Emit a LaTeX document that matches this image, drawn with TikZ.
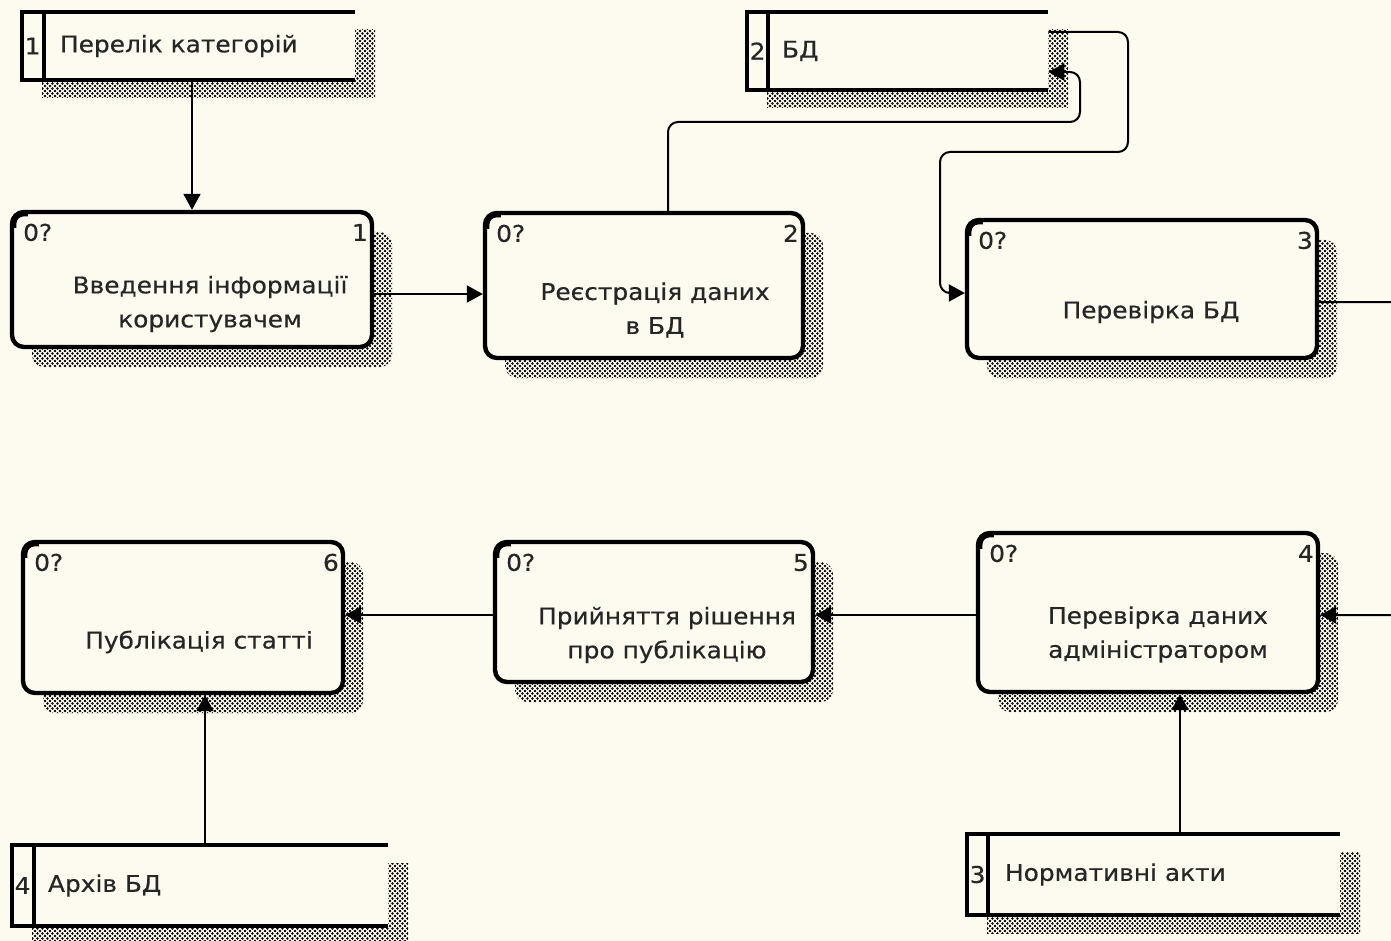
\documentclass[tikz,border=0pt]{standalone}
\usepackage{fontspec}
\setmainfont{DejaVu Sans}[FakeStretch=1.08,FakeBold=0.4]
\usetikzlibrary{arrows.meta,shadows,patterns}
\definecolor{bgc}{HTML}{FDFAF0}
\pgfdeclarepatternformonly{fdots}{\pgfqpoint{-0.75pt}{-0.75pt}}{\pgfqpoint{1.75pt}{1.75pt}}{\pgfqpoint{2.5pt}{2.5pt}}{%
  \pgfpathcircle{\pgfqpoint{0pt}{0pt}}{0.68pt}%
  \pgfpathcircle{\pgfqpoint{1.25pt}{1.25pt}}{0.68pt}%
  \pgfusepath{fill}}
\newcommand\dfdtxt{\fontsize{11.5}{17}\selectfont}
\newcommand\dfdproc[8]{%
  \node[proc, minimum width=#4, minimum height=#5] (#1) at (#2,#3) {};
  \draw[corner] ([shift={(1.8pt,-9pt)}]#1.north west) |- ([shift={(9pt,-1.8pt)}]#1.north west);
  \node[lbl, anchor=base west] (#1z) at ([shift={(6.5pt,-15.5pt)}]#1.north west) {0?};
  \node[lbl, anchor=base east] (#1n) at ([shift={(-3pt,-15.5pt)}]#1.north east) {#6};
  \node[ptext] (#1t) at ([shift={#7}]#1.center) {#8};
}
\newcommand\dfdstore[9]{%
  \node[store, minimum width=#4, minimum height=#5] (#1) at (#2,#3) {};
  \draw[sline] (#1.north east) -- (#1.north west) -- (#1.south west) -- (#1.south east);
  \draw[sline] ([xshift=#7]#1.north west) -- ([xshift=#7]#1.south west);
  \node[lbl] (#1n) at ([xshift=5.5pt]#1.west) {#6};
  \node[lbl, anchor=west] (#1t) at ([xshift=#9]#1.west) {#8};
}
\begin{document}
\begin{tikzpicture}[x=0.5pt,y=-0.5pt,
  every node/.style={font=\dfdtxt, text=black!85},
  proc/.style={draw, line width=2.2pt, rounded corners=6pt, fill=bgc, inner sep=0pt,
    general shadow={shadow xshift=10pt, shadow yshift=-10pt, pattern=fdots, pattern color=black}},
  corner/.style={line width=3pt, rounded corners=5pt},
  store/.style={fill=bgc, inner sep=0pt,
    general shadow={shadow xshift=10pt, shadow yshift=-9pt, pattern=fdots, pattern color=black}},
  sline/.style={line width=2pt},
  lbl/.style={inner sep=0pt},
  ptext/.style={align=center, inner sep=0pt},
  conn/.style={line width=1pt, rounded corners=5pt},
  arr/.style={conn, -{Triangle[length=8pt,width=8.5pt]}}
]
\fill[bgc] (0,0) rectangle (1391,941);
\useasboundingbox (0,0) rectangle (1391,941);

% data stores
\dfdstore{S1}{188.5}{46}{166.5pt}{34pt}{1}{11pt}{Перелік категорій}{19pt}
\dfdstore{S2}{897.5}{51}{150.5pt}{39pt}{2}{10.5pt}{БД}{17.5pt}
\dfdstore{S3}{1153.5}{874.5}{186.5pt}{40.5pt}{3}{10.5pt}{Нормативні акти}{19pt}
\dfdstore{S4}{200}{885.5}{188pt}{40.5pt}{4}{11pt}{Архів БД}{18pt}

% processes
\dfdproc{P1}{192}{279.5}{180pt}{67.5pt}{1}{(9pt,-12.25pt)}{Введення інформації\\користувачем}
\dfdproc{P2}{644}{285.5}{159pt}{72.5pt}{2}{(5.5pt,-12.25pt)}{Реєстрація даних\\в БД}
\dfdproc{P3}{1142}{289}{175pt}{69pt}{3}{(4.5pt,-11.5pt)}{Перевірка БД}
\dfdproc{P4}{1148}{612.5}{170pt}{79.5pt}{4}{(5pt,-11pt)}{Перевірка даних\\адміністратором}
\dfdproc{P5}{654}{612}{159pt}{70pt}{5}{(6.5pt,-11.5pt)}{Прийняття рішення\\про публікацію}
\dfdproc{P6}{183}{617.5}{160pt}{75.5pt}{6}{(8pt,-12.25pt)}{Публікація статті}

% helper coordinates for bends
\coordinate (c1) at (1080,122);
\coordinate (c2) at (1128,152);
\coordinate (c3) at (940,293);
\coordinate (c4) at (1420,460);

% connectors
\draw[arr] (S1.south -| P1.north) -- (P1.north);
\draw[arr] ([yshift=-7.25pt]P1.east) -- ([yshift=-7.25pt]P1.east -| P2.west);
\draw[arr] ([xshift=12pt]P2.north) |- (c1) |- ([yshift=-10.5pt]S2.east);
\draw[arr] ([yshift=9.5pt]S2.east) -| (c2) -| (c3) -- ([yshift=-2pt]P3.west);
\begin{scope}
  \clip (0,0) rectangle (1391,941);
  \draw[arr] ([yshift=-6.5pt]P3.east) -| (c4) |- ([yshift=-1.25pt]P4.east);
\end{scope}
\draw[arr] ([yshift=-1.25pt]P4.west) -- ([yshift=-1.25pt]P4.west -| P5.east);
\draw[arr] ([yshift=-1.5pt]P5.west) -- ([yshift=-1.5pt]P5.west -| P6.east);
\draw[arr] ([xshift=13.25pt]S3.north) -- ([xshift=13.25pt]S3.north |- P4.south);
\draw[arr] ([xshift=2.5pt]S4.north) -- ([xshift=2.5pt]S4.north |- P6.south);
\end{tikzpicture}
\end{document}
